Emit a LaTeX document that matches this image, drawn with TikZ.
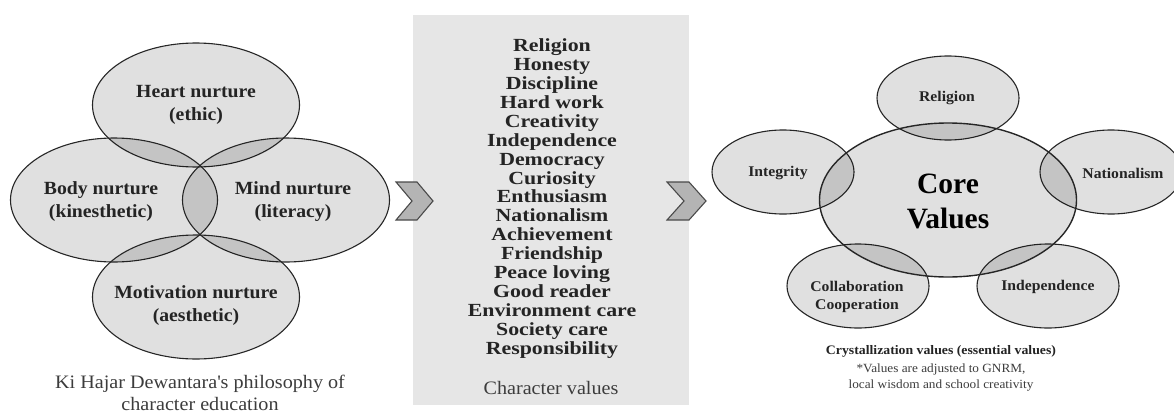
\documentclass[tikz,border=0pt]{standalone}
\usepackage{fontspec}
\setmainfont{Liberation Serif}
\newfontfamily\widefont[FakeStretch=1.18,BoldFont={Liberation Serif Bold}]{Liberation Serif}
\newfontfamily\midfont[FakeStretch=1.06,BoldFont={Liberation Serif Bold}]{Liberation Serif}
\usetikzlibrary{shapes.geometric}
\definecolor{ink}{HTML}{242424}
\definecolor{softink}{HTML}{3C3C3C}
\definecolor{panelgray}{HTML}{E6E6E6}
\definecolor{chevgray}{HTML}{B4B4B4}
\definecolor{chevline}{HTML}{4A4A4A}
\tikzset{
  blob/.style={ellipse,draw=black!85,line width=1.1pt,fill=black,fill opacity=.12,draw opacity=1,inner sep=0pt,outer sep=0pt},
  bigleft/.style={blob,minimum width=207pt,minimum height=124pt},
  small/.style={blob,minimum width=142pt,minimum height=84pt},
  chevron/.style={draw=chevline,fill=chevgray,line width=1.1pt,line join=miter},
  lbl/.style={text=ink,inner sep=0pt,align=center},
  leftlbl/.style={lbl,font=\midfont\fontsize{18.6}{23}\selectfont\bfseries},
  rightlbl/.style={lbl,font=\midfont\fontsize{14.8}{17.5}\selectfont\bfseries},
  plainlbl/.style={lbl,text=softink,font=\midfont\fontsize{19}{22}\selectfont},
}
\begin{document}
\begin{tikzpicture}[x=1pt,y=-1pt]
\clip (0,0) rectangle (1174,412);
\fill[white] (0,0) rectangle (1174,412);
\fill[panelgray] (413,15) rectangle (689,405);
% left venn
\node[bigleft] (heart) at (196,105) {};
\node[bigleft] (body) at (114,200) {};
\node[bigleft] (mind) at (286,200) {};
\node[bigleft] (motivation) at (196,297) {};
\node[leftlbl] (heartt) at (196,105) {Heart nurture\\(ethic)};
\node[leftlbl] (bodyt) at (101,201.5) {Body nurture\\(kinesthetic)};
\node[leftlbl] (mindt) at (293,201.5) {Mind nurture\\(literacy)};
\node[leftlbl] (mott) at (196,306) {Motivation nurture\\(aesthetic)};
\node[plainlbl] (cap) at (200,392.5) {Ki Hajar Dewantara\textquotesingle s philosophy of\\character education};
% chevrons
\draw[chevron] (396,182) -- (417,182) -- (433,201) -- (417,220) -- (396,220) -- (412,201) -- cycle;
\draw[chevron] (667,182) -- (689,182) -- (706,201) -- (689,220) -- (667,220) -- (684,201) -- cycle;
% list
\node[lbl,font=\widefont\fontsize{18.5}{18.9}\selectfont\bfseries] (vlist) at (552,198.5) {Religion\\Honesty\\Discipline\\Hard work\\Creativity\\Independence\\Democracy\\Curiosity\\Enthusiasm\\Nationalism\\Achievement\\Friendship\\Peace loving\\Good reader\\Environment care\\Society care\\Responsibility};
\node[plainlbl] (cv) at (551,388) {Character values};
% right
\node[small] (rel) at (948,98) {};
\node[small] (int) at (783,172) {};
\node[small] (nat) at (1111,172) {};
\node[small] (col) at (858,286) {};
\node[small] (ind) at (1048,286) {};
\node[blob,line width=1.4pt,minimum width=257pt,minimum height=154pt] (core) at (948,200) {};
\node[rightlbl] (relt) at (947,97.5) {Religion};
\node[rightlbl] (intt) at (778,172.5) {Integrity};
\node[rightlbl] (natt) at (1123,173) {Nationalism};
\node[rightlbl] (colt) at (857,297) {Collaboration\\Cooperation};
\node[rightlbl] (indt) at (1048,286.5) {Independence};
\node[lbl,text=black,font=\fontsize{29.5}{35}\selectfont\bfseries] (coret) at (948,201.5) {Core\\Values};
\node[lbl,font=\midfont\fontsize{13}{15}\selectfont\bfseries] (crys) at (941,351) {Crystallization values (essential values)};
\node[lbl,text=softink,font=\midfont\fontsize{12.5}{16}\selectfont] (note) at (941,377.5) {*Values are adjusted to GNRM,\\local wisdom and school creativity};
\end{tikzpicture}
\end{document}
